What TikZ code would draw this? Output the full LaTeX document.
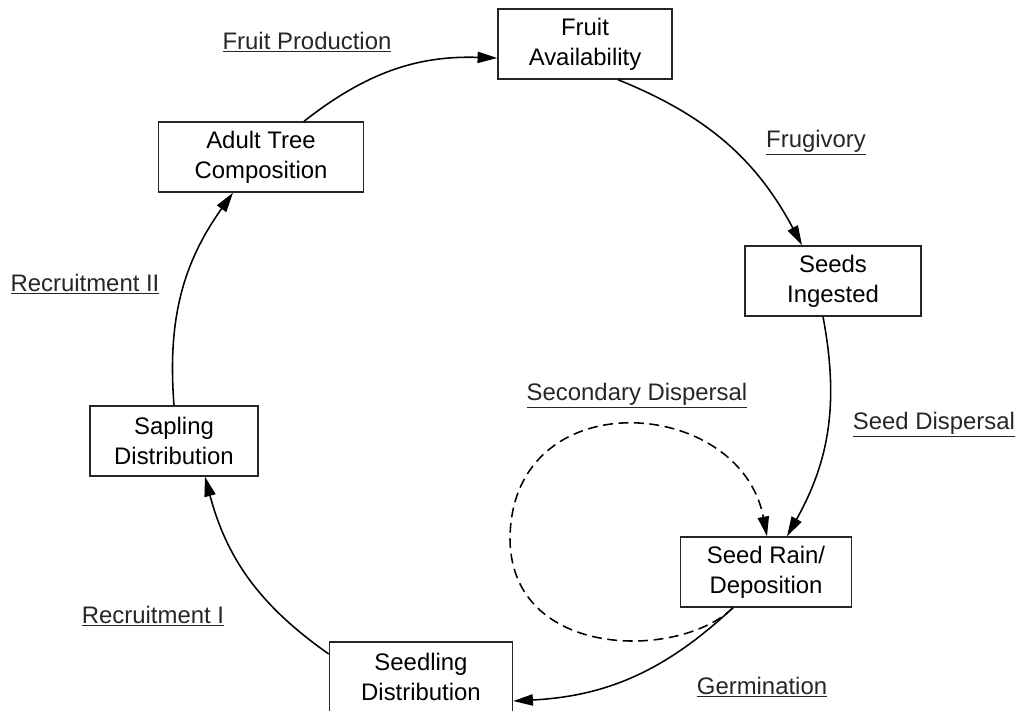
\documentclass[tikz,border=0pt]{standalone}
\usepackage{fontspec}
\setmainfont{Liberation Sans}
\usepackage{tikz}
\usetikzlibrary{arrows.meta, calc}

\begin{document}
\begin{tikzpicture}[
			x=0.025cm, y=-0.025cm,
			font=\fontsize{17}{21.5}\selectfont,
			stage/.style={rectangle, draw=black!85, line width=1pt, align=center, minimum height=1.75cm, inner sep=0pt},
			proc/.style={align=center, inner sep=0pt, text=black!85},
			arrow/.style={line width=1.1pt, -{Triangle[length=14pt, width=8pt]}},
			looparrow/.style={arrow, dash pattern=on 7pt off 4pt}
			]
			
			\useasboundingbox (0,0) rectangle (1027,711);
			
			\node[stage, minimum width=4.35cm] (fruit) at (585,44) {Fruit\\Availability};
			\node[stage, minimum width=5.125cm] (adult) at (261,157) {Adult Tree\\Composition};
			\node[stage, minimum width=4.4cm] (seeds) at (833,281) {Seeds\\Ingested};
			\node[stage, minimum width=4.2cm] (sapling) at (174,441) {Sapling\\Distribution};
			\node[stage, minimum width=4.275cm] (rain) at (766,572) {Seed Rain/\\Deposition};
			\node[stage, minimum width=4.575cm] (seedling) at (421,677) {Seedling\\Distribution};
			
			\node[proc] (lprod) at (307,42) {\underline{Fruit Production}};
			\node[proc] (lfrug) at (816,143) {\underline{Frugivory}};
			\node[proc] (lrec2) at (85,284) {\underline{Recruitment II}};
			\node[proc] (lsecdisp) at (637,396) {\underline{Secondary Dispersal}};
			\node[proc] (lseeddisp) at (934,425) {\underline{Seed Dispersal}};
			\node[proc] (lrec1) at (153,616) {\underline{Recruitment I}};
			\node[proc] (lgerm) at (762,687) {\underline{Germination}};
			
			\draw[arrow] ($(adult.north)+(43,0)$) to[bend left=20] ($(fruit.west)+(0,14)$);
			\draw[arrow] ($(fruit.south)+(33,0)$) to[bend left=20] ($(seeds.north)+(-31,0)$);
			\draw[arrow] ($(seeds.south)+(-10,0)$) to[bend left=20] ($(rain.north)+(21,0)$);
			\draw[arrow] ($(rain.south)+(-33,0)$) to[bend left=20] ($(seedling.east)+(0,24)$);
			\draw[arrow] ($(seedling.west)+(0,-23)$) to[bend left=20] ($(sapling.south)+(31,0)$);
			\draw[arrow] (sapling.north) to[bend left=20] ($(adult.south)+(-28,0)$);
			
			\draw[looparrow] ($(rain.south)+(-33,0)$) .. controls (680,660) and (512,660) .. (510,540)
			.. controls (510,380) and (740,395) .. ($(rain.north)+(1,0)$);
			
		\end{tikzpicture}
\end{document}
